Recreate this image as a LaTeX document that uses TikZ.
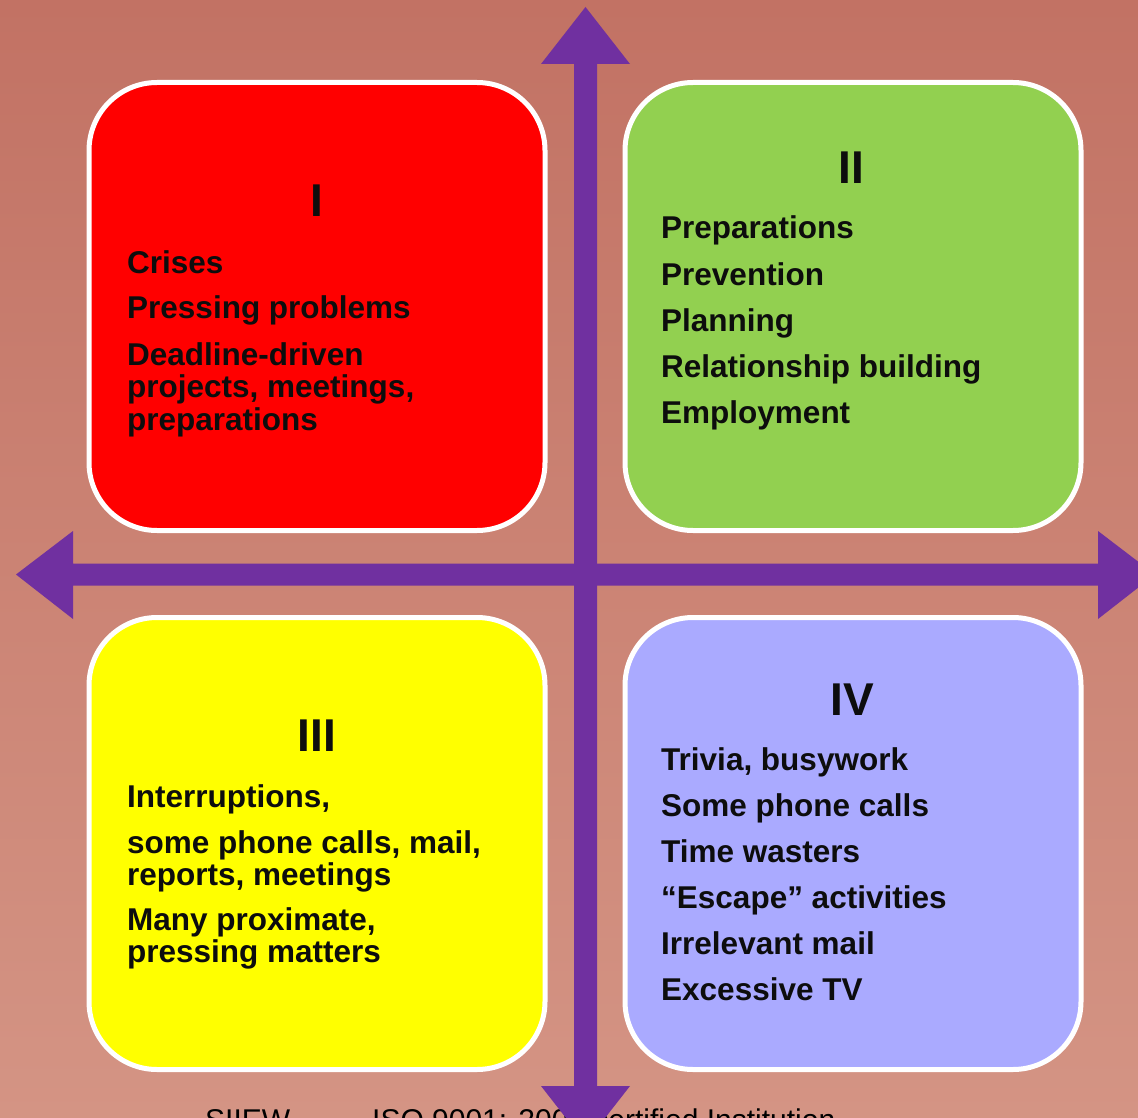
\documentclass[tikz,border=0pt]{standalone}
\usepackage{fontspec}
\setmainfont{Liberation Sans}
\definecolor{axispurple}{RGB}{112,48,160}
\definecolor{bgtop}{RGB}{194,114,100}
\definecolor{bgmid}{RGB}{204,130,115}
\definecolor{bgbot}{RGB}{212,148,132}
\definecolor{qred}{RGB}{255,0,0}
\definecolor{qgreen}{RGB}{146,208,80}
\definecolor{qyellow}{RGB}{255,255,0}
\definecolor{qblue}{RGB}{170,170,255}
\definecolor{txt}{RGB}{13,13,13}
\tikzset{
  quad/.style={draw=white, line width=5pt, rounded corners=68pt, minimum width=456pt, inner sep=0pt, outer sep=0pt},
  numeral/.style={anchor=base, inner sep=0pt, text=txt, font=\bfseries\fontsize{46}{50}\selectfont},
  item/.style={anchor=base west, inner sep=0pt, text=txt, font=\bfseries\fontsize{31.5}{33}\selectfont},
  footer/.style={anchor=base west, inner sep=0pt, text=black, font=\fontsize{30}{32}\selectfont},
  axis/.style={fill=axispurple}
}
\begin{document}
\begin{tikzpicture}[x={(1pt,0pt)}, y={(0pt,-1pt)}]
\useasboundingbox (0,0) rectangle (1138,1118);
\begin{scope}
\clip (0,0) rectangle (1138,1118);
% background
\shade[top color=bgtop, middle color=bgmid, bottom color=bgbot] (0,0) rectangle (1138,1118);

% quadrants
\node[quad, fill=qred, minimum height=448pt] (q1) at (317,306.5) {};
\node[quad, fill=qgreen, minimum height=448pt] (q2) at (853,306.5) {};
\node[quad, fill=qyellow, minimum height=452pt] (q3) at (317,843.5) {};
\node[quad, fill=qblue, minimum height=452pt] (q4) at (853,843.5) {};

% quadrant I
\node[numeral] (n1) at (317,217) {I};
\node[item] (a1) at (127,273) {Crises};
\node[item] (a2) at (127,318) {Pressing problems};
\node[item] (a3) at (127,365) {Deadline-driven};
\node[item] (a4) at (127,397) {projects, meetings,};
\node[item] (a5) at (127,430) {preparations};

% quadrant II
\node[numeral] (n2) at (851,184) {II};
\node[item] (b1) at (661,239) {Preparations};
\node[item] (b2) at (661,285) {Prevention};
\node[item] (b3) at (661,331) {Planning};
\node[item] (b4) at (661,377) {Relationship building};
\node[item] (b5) at (661,423) {Employment};

% quadrant III
\node[numeral] (n3) at (317,751) {III};
\node[item] (c1) at (127,807) {Interruptions,};
\node[item] (c2) at (127,853) {some phone calls, mail,};
\node[item] (c3) at (127,885) {reports, meetings};
\node[item] (c4) at (127,930) {Many proximate,};
\node[item] (c5) at (127,962) {pressing matters};

% quadrant IV
\node[numeral] (n4) at (852,715) {IV};
\node[item] (d1) at (661,770) {Trivia, busywork};
\node[item] (d2) at (661,816) {Some phone calls};
\node[item] (d3) at (661,862) {Time wasters};
\node[item] (d4) at (661,908) {“Escape” activities};
\node[item] (d5) at (661,954) {Irrelevant mail};
\node[item] (d6) at (661,1000) {Excessive TV};

% footer (cut by the page edge)
\node[footer] (foot1) at (205,1130) {SIIEW};
\node[footer] (foot2) at (372,1130) {ISO 9001: 2008 certified Institution};

% axes
\coordinate (vtop) at (585.5,7);
\coordinate (vbot) at (585.5,1143);
\coordinate (hleft) at (16,574.5);
\coordinate (hright) at (1155,574.5);
\fill[axis] (hleft) -- (73,531) -- (73,563.5) -- (1098,563.5) -- (1098,531) -- (hright) -- (1098,619) -- (1098,585.5) -- (73,585.5) -- (73,619) -- cycle;
\fill[axis] (vtop) -- (630,64) -- (597,64) -- (597,1086) -- (630,1086) -- (vbot) -- (541,1086) -- (574,1086) -- (574,64) -- (541,64) -- cycle;
\end{scope}
\end{tikzpicture}
\end{document}
